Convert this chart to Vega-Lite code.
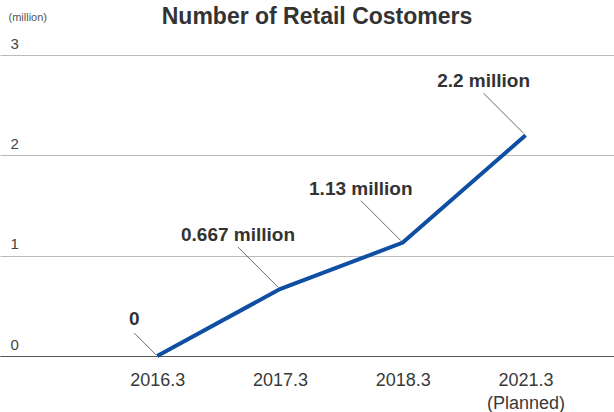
{
  "$schema": "https://vega.github.io/schema/vega-lite/v6.json",
  "width": 614,
  "height": 301,
  "autosize": {"type": "none"},
  "padding": {"left": 0, "top": 55, "right": 0, "bottom": 56},
  "config": {"view": {"stroke": null}, "font": "Liberation Sans"},
  "title": {
    "text": "Number of Retail Costomers",
    "fontSize": 23,
    "fontWeight": "bold",
    "color": "#333333",
    "anchor": "middle",
    "dx": 10,
    "offset": -18
  },
  "data": {
    "values": [
      {"period": "2016.3", "value": 0, "label": "0"},
      {"period": "2017.3", "value": 0.667, "label": "0.667 million"},
      {"period": "2018.3", "value": 1.13, "label": "1.13 million"},
      {"period": "2021.3", "value": 2.2, "label": "2.2 million"}
    ]
  },
  "encoding": {
    "x": {
      "field": "period",
      "type": "ordinal",
      "sort": null,
      "scale": {"type": "point", "padding": 1.03, "align": 0.64},
      "axis": {
        "title": null,
        "labelAngle": 0,
        "labelFontSize": 18,
        "labelColor": "#3a3a3a",
        "labelPadding": 15,
        "labelLineHeight": 23,
        "labelExpr": "datum.value == '2021.3' ? ['2021.3', '(Planned)'] : datum.value",
        "ticks": false,
        "domainColor": "#555555",
        "domainWidth": 1,
        "grid": false
      }
    },
    "y": {
      "field": "value",
      "type": "quantitative",
      "scale": {"domain": [0, 3], "nice": false, "zero": true},
      "axis": {
        "values": [0, 1, 2, 3],
        "title": "(million)",
        "titleAngle": 0,
        "titleX": 8,
        "titleY": -33,
        "titleAlign": "left",
        "titleBaseline": "bottom",
        "titleFontSize": 11,
        "titleFontWeight": "normal",
        "titleColor": "#555555",
        "domain": false,
        "ticks": false,
        "tickSize": 0,
        "labelAlign": "left",
        "labelBaseline": "bottom",
        "labelPadding": -10,
        "labelOffset": -4,
        "labelFontSize": 15,
        "labelColor": "#444444",
        "gridColor": "#bbbbbb",
        "gridWidth": 1
      }
    }
  },
  "layer": [
    {
      "mark": {"type": "line", "color": "#0f4fa3", "strokeWidth": 4, "strokeJoin": "miter"}
    },
    {
      "transform": [{"filter": "datum.value > 0"}],
      "mark": {"type": "rule", "color": "#444444", "strokeWidth": 0.8, "xOffset": -42, "yOffset": -42, "x2Offset": -2, "y2Offset": -2},
      "encoding": {
        "x2": {"field": "period"},
        "y2": {"field": "value"}
      }
    },
    {
      "transform": [{"filter": "datum.value == 0"}],
      "mark": {"type": "rule", "color": "#444444", "strokeWidth": 0.8, "xOffset": -23, "yOffset": -23, "x2Offset": -1, "y2Offset": -1},
      "encoding": {
        "x2": {"field": "period"},
        "y2": {"field": "value"}
      }
    },
    {
      "transform": [{"filter": "datum.value > 0"}],
      "mark": {"type": "text", "fontSize": 19, "fontWeight": "bold", "color": "#333333", "dx": -42, "dy": -48, "baseline": "alphabetic", "align": "center"},
      "encoding": {"text": {"field": "label"}}
    },
    {
      "transform": [{"filter": "datum.value == 0"}],
      "mark": {"type": "text", "fontSize": 19, "fontWeight": "bold", "color": "#333333", "dx": -23, "dy": -31, "baseline": "alphabetic", "align": "center"},
      "encoding": {"text": {"field": "label"}}
    }
  ]
}
